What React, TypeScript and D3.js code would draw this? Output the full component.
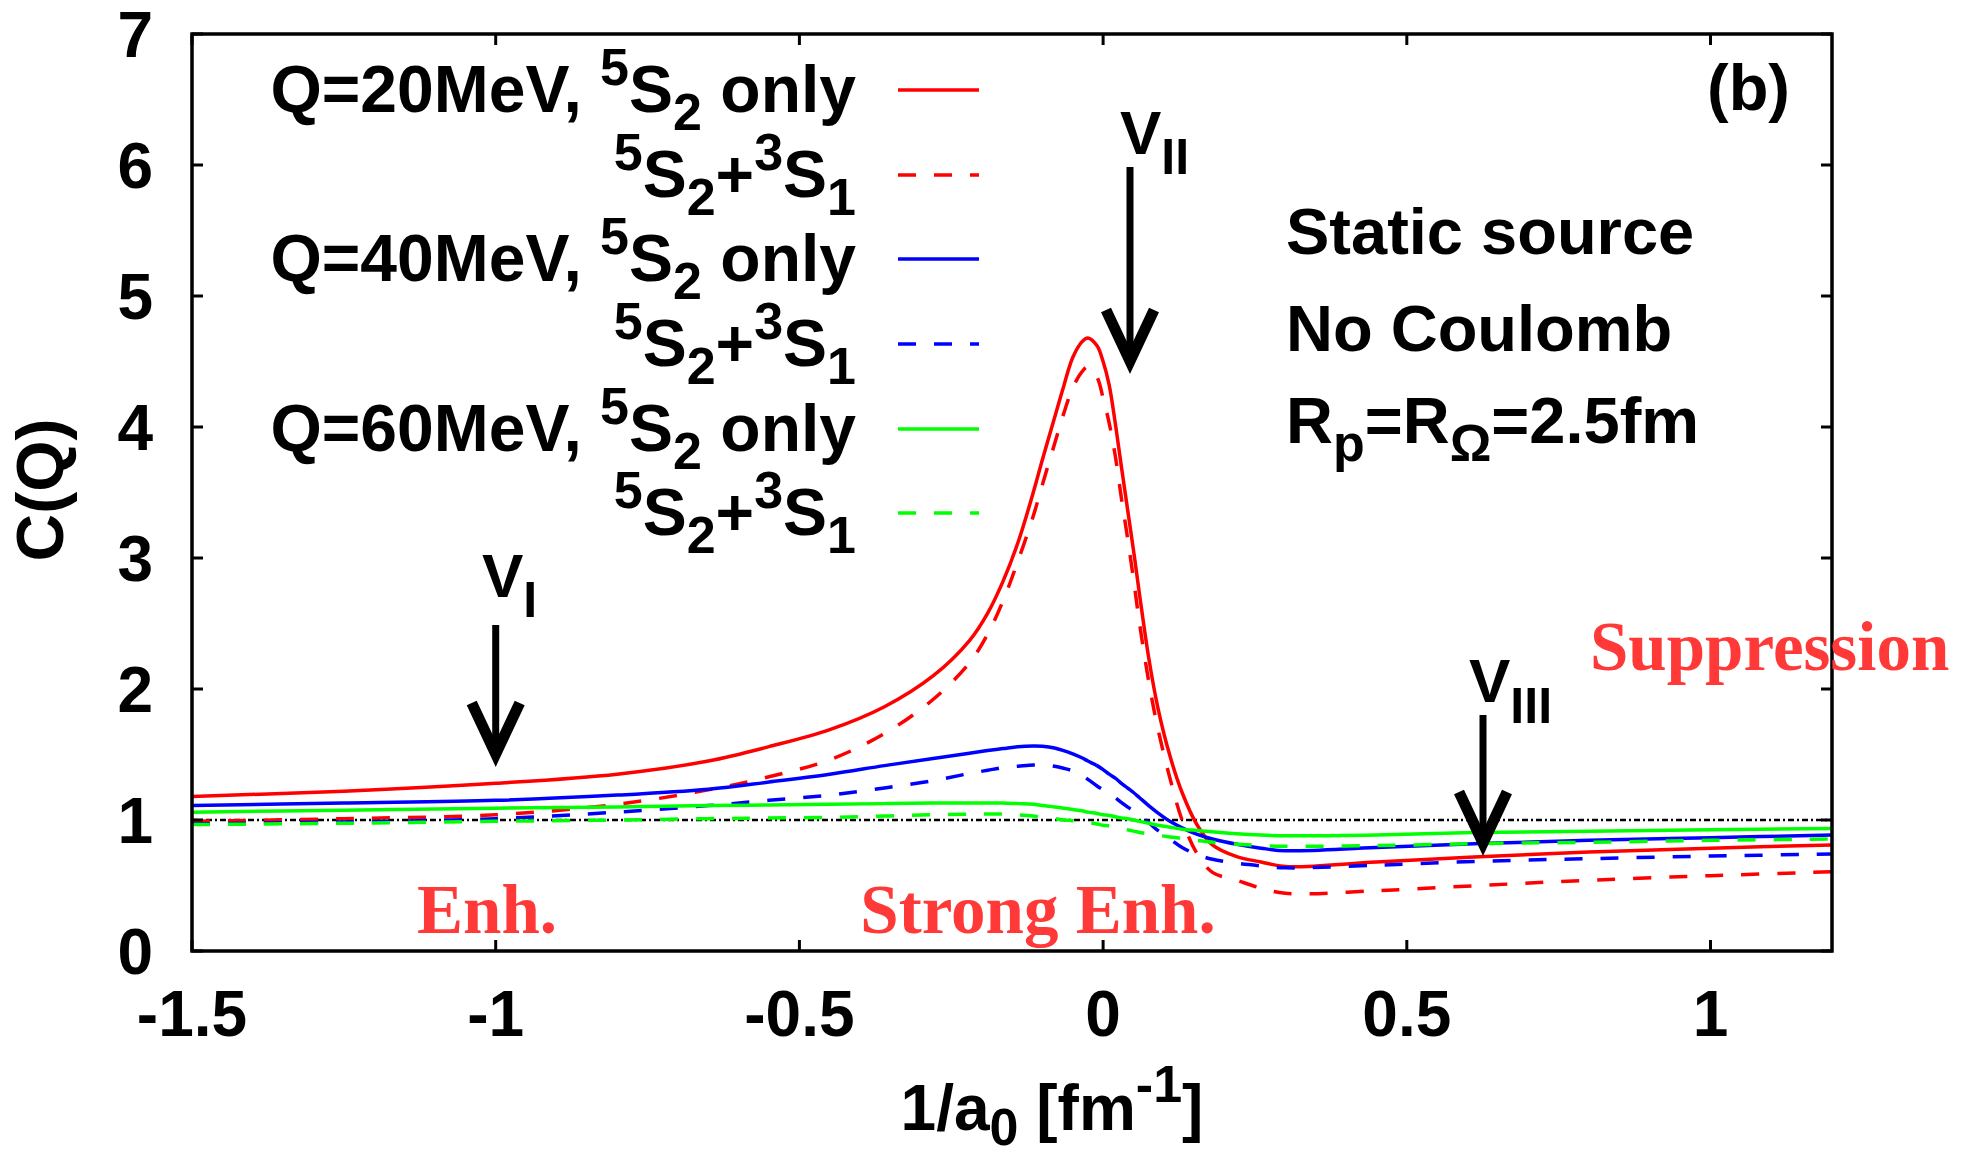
import React from "react";
import * as d3 from "d3";

// ---------- data ----------
const xValues = [-1.5, -1.25, -1.0, -0.8, -0.65, -0.55, -0.45, -0.36, -0.28, -0.22, -0.19, -0.165, -0.14, -0.115, -0.1, -0.08, -0.065, -0.05, -0.035, -0.025, -0.01, 0.0, 0.01, 0.02, 0.03, 0.04, 0.05, 0.06, 0.075, 0.09, 0.11, 0.13, 0.155, 0.18, 0.22, 0.26, 0.3, 0.45, 0.62, 0.8, 1.0, 1.2];

const q20Only = [1.18, 1.22, 1.28, 1.35, 1.45, 1.56, 1.69, 1.865, 2.1, 2.37, 2.58, 2.82, 3.12, 3.5, 3.75, 4.07, 4.31, 4.53, 4.65, 4.68, 4.62, 4.5, 4.32, 4.03, 3.7, 3.38, 3.06, 2.72, 2.24, 1.86, 1.49, 1.21, 0.96, 0.81, 0.72, 0.68, 0.645, 0.68, 0.72, 0.755, 0.785, 0.81];
const q20Both = [0.99, 1.01, 1.04, 1.12, 1.23, 1.33, 1.46, 1.66, 1.92, 2.2, 2.42, 2.67, 2.98, 3.32, 3.56, 3.87, 4.1, 4.3, 4.42, 4.46, 4.38, 4.22, 4.03, 3.78, 3.46, 3.16, 2.84, 2.5, 2.06, 1.7, 1.32, 1.0, 0.74, 0.6, 0.54, 0.48, 0.44, 0.46, 0.5, 0.54, 0.575, 0.605];
const q40Only = [1.11, 1.13, 1.15, 1.19, 1.235, 1.29, 1.35, 1.415, 1.47, 1.51, 1.53, 1.545, 1.56, 1.565, 1.563, 1.55, 1.53, 1.505, 1.475, 1.45, 1.415, 1.385, 1.35, 1.32, 1.28, 1.245, 1.21, 1.17, 1.11, 1.055, 0.99, 0.94, 0.89, 0.855, 0.815, 0.785, 0.765, 0.79, 0.82, 0.845, 0.865, 0.885];
const q40Both = [0.97, 0.985, 1.01, 1.06, 1.11, 1.15, 1.19, 1.245, 1.3, 1.355, 1.38, 1.4, 1.41, 1.42, 1.42, 1.41, 1.395, 1.375, 1.34, 1.31, 1.26, 1.23, 1.2, 1.17, 1.135, 1.1, 1.07, 1.035, 0.98, 0.92, 0.855, 0.79, 0.735, 0.7, 0.67, 0.65, 0.635, 0.655, 0.685, 0.705, 0.725, 0.74];
const q60Only = [1.06, 1.075, 1.09, 1.1, 1.11, 1.115, 1.12, 1.125, 1.13, 1.13, 1.13, 1.13, 1.125, 1.12, 1.11, 1.1, 1.09, 1.08, 1.07, 1.06, 1.05, 1.04, 1.035, 1.025, 1.015, 1.01, 1.0, 0.99, 0.975, 0.96, 0.945, 0.93, 0.92, 0.91, 0.895, 0.885, 0.88, 0.885, 0.905, 0.915, 0.925, 0.935];
const q60Both = [0.965, 0.975, 0.99, 1.0, 1.01, 1.015, 1.02, 1.03, 1.04, 1.045, 1.045, 1.045, 1.04, 1.03, 1.02, 1.01, 1.0, 0.995, 0.985, 0.98, 0.97, 0.96, 0.955, 0.945, 0.935, 0.925, 0.915, 0.905, 0.895, 0.885, 0.87, 0.86, 0.845, 0.83, 0.815, 0.805, 0.8, 0.805, 0.82, 0.83, 0.845, 0.855];

const seriesValues = [q20Only, q20Both, q40Only, q40Both, q60Only, q60Both];
const seriesColors = ["#ff0000", "#ff0000", "#0000ff", "#0000ff", "#00ff00", "#00ff00"];
const seriesDashed = [false, true, false, true, false, true];
const legendQ = ["Q=20MeV, ", "Q=40MeV, ", "Q=60MeV, "];

const xTicks = [-1.5, -1, -0.5, 0, 0.5, 1];
const xTickLabels = ["-1.5", "-1", "-0.5", "0", "0.5", "1"];
const yTicks = [0, 1, 2, 3, 4, 5, 6, 7];

const W = 1971;
const H = 1155;
const L = 192, R = 1832, T = 34, B = 951;

const SANS = "'Liberation Sans', Arial, Helvetica, sans-serif";
const SERIF = "'Liberation Serif', 'Times New Roman', serif";
const ANNOT = "#ff3838";

function Arrow({ x, yTop, yTip }: { x: number; yTop: number; yTip: number }) {
  return (
    <g>
      <line x1={x} x2={x} y1={yTop} y2={yTip - 10} stroke="#000" strokeWidth={7} />
      <path
        d={`M${x - 24},${yTip - 64} L${x},${yTip - 13} L${x + 24},${yTip - 64}`}
        fill="none"
        stroke="#000"
        strokeWidth={11}
        strokeLinejoin="miter"
        strokeMiterlimit={10}
      />
    </g>
  );
}

export default function App() {
  const x = d3.scaleLinear().domain([-1.5, 1.2]).range([L, R]);
  const y = d3.scaleLinear().domain([0, 7]).range([B, T]);
  const line = d3
    .line<number>()
    .x((_, i) => x(xValues[i]))
    .y((d) => y(d))
    .curve(d3.curveCatmullRom.alpha(0.5));

  const fs = 64;
  const lfs = 66;
  const sub = 52;
  const legendRows = [90, 175, 259, 344, 429, 513];
  const cw = 3.5;

  return (
    <div style={{ position: "absolute", left: 0, top: 0 }}>
      <svg width={W} height={H} viewBox={`0 0 ${W} ${H}`} style={{ display: "block", background: "#fff" }}>
        <defs>
          <clipPath id="plotClip">
            <rect x={L} y={T} width={R - L} height={B - T} />
          </clipPath>
        </defs>

        {/* reference line C=1 */}
        <line x1={x(-1.5)} x2={x(1.2)} y1={y(1)} y2={y(1)} stroke="#000" strokeWidth={2.5} strokeDasharray="6,3,2,3" />

        {/* curves */}
        <g clipPath="url(#plotClip)">
          {seriesValues.map((vals, i) => (
            <path
              key={i}
              d={line(vals) || ""}
              fill="none"
              stroke={seriesColors[i]}
              strokeWidth={cw}
              strokeDasharray={seriesDashed[i] ? "18,18" : undefined}
            />
          ))}
        </g>

        {/* frame */}
        <rect x={L} y={T} width={R - L} height={B - T} fill="none" stroke="#000" strokeWidth={3.5} />
        {xTicks.map((t) => (
          <g key={"xt" + t}>
            <line x1={x(t)} x2={x(t)} y1={B} y2={B - 11} stroke="#000" strokeWidth={3} />
            <line x1={x(t)} x2={x(t)} y1={T} y2={T + 11} stroke="#000" strokeWidth={3} />
          </g>
        ))}
        {yTicks.map((t) => (
          <g key={"yt" + t}>
            <line x1={L} x2={L + 11} y1={y(t)} y2={y(t)} stroke="#000" strokeWidth={3} />
            <line x1={R} x2={R - 11} y1={y(t)} y2={y(t)} stroke="#000" strokeWidth={3} />
          </g>
        ))}

        {/* tick labels */}
        <g fontFamily={SANS} fontWeight="bold" fontSize={fs} fill="#000">
          {xTicks.map((t, i) => (
            <text key={"xl" + t} x={x(t)} y={1036} textAnchor="middle">
              {xTickLabels[i]}
            </text>
          ))}
          {yTicks.map((t) => (
            <text key={"yl" + t} x={153} y={y(t) + 23} textAnchor="end">
              {String(t)}
            </text>
          ))}
        </g>

        {/* axis titles */}
        <text
          transform="translate(63,490) rotate(-90)"
          textAnchor="middle"
          fontFamily={SANS}
          fontWeight="bold"
          fontSize={66}
        >
          C(Q)
        </text>
        <text x={1052} y={1130} textAnchor="middle" fontFamily={SANS} fontWeight="bold" fontSize={fs}>
          {"1/a"}
          <tspan dy={15} fontSize={sub}>0</tspan>
          <tspan dy={-15}>{" [fm"}</tspan>
          <tspan dy={-28} fontSize={sub}>-1</tspan>
          <tspan dy={28}>]</tspan>
        </text>

        {/* legend */}
        <g fontFamily={SANS} fontWeight="bold" fontSize={lfs} fill="#000">
          {legendRows.map((ry, i) => {
            const isOnly = i % 2 === 0;
            return (
              <g key={"lg" + i}>
                {isOnly ? (
                  <text x={856} y={ry + 22} textAnchor="end">
                    {legendQ[i / 2]}
                    <tspan dy={-27} fontSize={sub}>5</tspan>
                    <tspan dy={27}>S</tspan>
                    <tspan dy={18} fontSize={sub}>2</tspan>
                    <tspan dy={-18}>{" only"}</tspan>
                  </text>
                ) : (
                  <text x={856} y={ry + 22} textAnchor="end">
                    <tspan dy={-27} fontSize={sub}>5</tspan>
                    <tspan dy={27}>S</tspan>
                    <tspan dy={18} fontSize={sub}>2</tspan>
                    <tspan dy={-18}>+</tspan>
                    <tspan dy={-27} fontSize={sub}>3</tspan>
                    <tspan dy={27}>S</tspan>
                    <tspan dy={18} fontSize={sub}>1</tspan>
                  </text>
                )}
                <line
                  x1={898}
                  x2={979}
                  y1={ry}
                  y2={ry}
                  stroke={seriesColors[i]}
                  strokeWidth={cw}
                  strokeDasharray={seriesDashed[i] ? "18,18" : undefined}
                />
              </g>
            );
          })}
        </g>

        {/* panel text */}
        <g fontFamily={SANS} fontWeight="bold" fontSize={65} fill="#000">
          <text x={1790} y={110} textAnchor="end">(b)</text>
          <text x={1286} y={254}>Static source</text>
          <text x={1286} y={351}>No Coulomb</text>
          <text x={1286} y={443}>
            R<tspan dy={18} fontSize={sub}>p</tspan>
            <tspan dy={-18}>=R</tspan>
            <tspan dy={18} fontSize={sub}>Ω</tspan>
            <tspan dy={-18}>=2.5fm</tspan>
          </text>
        </g>

        {/* V labels + arrows */}
        <g fontFamily={SANS} fontWeight="bold" fontSize={62} fill="#000">
          <text x={482} y={597}>
            V<tspan dy={20} fontSize={50}>I</tspan>
          </text>
          <text x={1120} y={154}>
            V<tspan dy={20} fontSize={50}>II</tspan>
          </text>
          <text x={1469} y={702}>
            V<tspan dy={21} fontSize={50}>III</tspan>
          </text>
        </g>
        <Arrow x={x(-1.0)} yTop={625} yTip={767} />
        <Arrow x={1130} yTop={167} yTip={374} />
        <Arrow x={1483} yTop={715} yTip={856} />

        {/* region annotations */}
        <g fontFamily={SERIF} fontWeight="bold" fontSize={69} fill={ANNOT}>
          <text x={487} y={933} textAnchor="middle">Enh.</text>
          <text x={1038} y={933} textAnchor="middle">Strong Enh.</text>
          <text x={1590} y={670}>Suppression</text>
        </g>
      </svg>
    </div>
  );
}
